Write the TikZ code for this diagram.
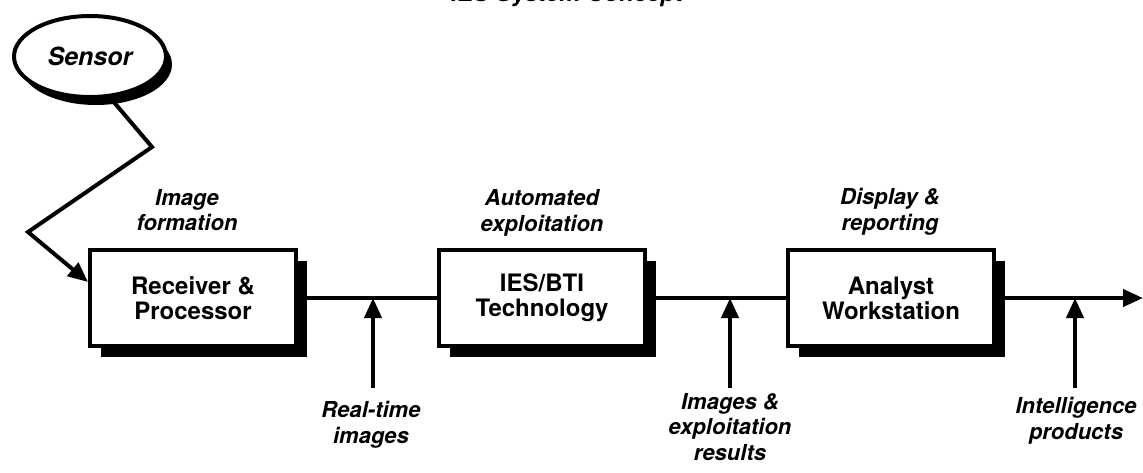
\documentclass[tikz,border=0pt]{standalone}
\usepackage{fontspec}
\setmainfont{TeX Gyre Heros}
\usetikzlibrary{arrows.meta,shapes.geometric,shadows,calc}
\begin{document}
\begin{tikzpicture}[x=0.5pt,y=-0.5pt,
  conn/.style={line width=2pt,line join=miter},
  arr/.style={line width=2pt,-{Triangle[length=10pt,width=8.5pt]}},
  shadowed/.style={drop shadow={shadow xshift=#1,shadow yshift=-#1,fill=black,opacity=1}},
  block/.style={draw,line width=2pt,fill=white,minimum width=103pt,minimum height=48pt,
    align=center,inner sep=0pt,font=\bfseries\fontsize{12}{12.5}\selectfont,shadowed=5.5pt},
  lab/.style={align=center,inner sep=0pt,font=\bfseries\itshape\fontsize{11}{12.8}\selectfont}]
\useasboundingbox (0,0) rectangle (1143,472);
% clipped title
\node[anchor=base,inner sep=0pt,font=\bfseries\itshape\fontsize{12}{12}\selectfont] (title) at (567,1.5) {IES System Concept};
% sensor
\node[ellipse,draw,line width=2pt,fill=white,minimum width=76pt,minimum height=40.5pt,inner sep=0pt,
  font=\bfseries\itshape\fontsize{12.5}{13}\selectfont,
  drop shadow={shadow xshift=3pt,shadow yshift=-4pt,fill=black,opacity=1}] (sensor) at (90,56.5) {Sensor};
% blocks
\node[block] (rp) at (193,298) {Receiver \&\\Processor};
\node[block] (ies) at (542,298) {IES/BTI\\Technology};
\node[block] (aw) at (891,298) {Analyst\\Workstation};
% labels above
\node[lab] (l1) at (187,210) {Image\\formation};
\node[lab] (l2) at (542,213) {Automated\\exploitation};
\node[lab] (l3) at (890,212) {Display \&\\reporting};
% labels below
\node[lab] (b1) at (371,425) {Real-time\\images};
\node[lab] (b2) at (730,427) {Images \&\\exploitation\\results};
\node[lab] (b3) at (1076,421) {Intelligence\\products};
% sensor zig-zag connector
\coordinate (k1) at (152,147);
\coordinate (k2) at (28,232);
\draw[arr] (sensor.-64) -- (k1) -- (k2) -- ($(rp.north west)!0.34!(rp.south west)$);
% main flow
\draw[conn] (rp.east) -- (ies.west);
\draw[conn] (ies.east) -- (aw.west);
\coordinate (out) at (1143,298);
\draw[arr] (aw.east) -- (out);
% input arrows
\coordinate (a1) at (373,388);
\coordinate (a2) at (730,388);
\coordinate (a3) at (1075,388);
\draw[arr] (a1) -- (a1 |- rp.east);
\draw[arr] (a2) -- (a2 |- rp.east);
\draw[arr] (a3) -- (a3 |- rp.east);
\end{tikzpicture}
\end{document}
